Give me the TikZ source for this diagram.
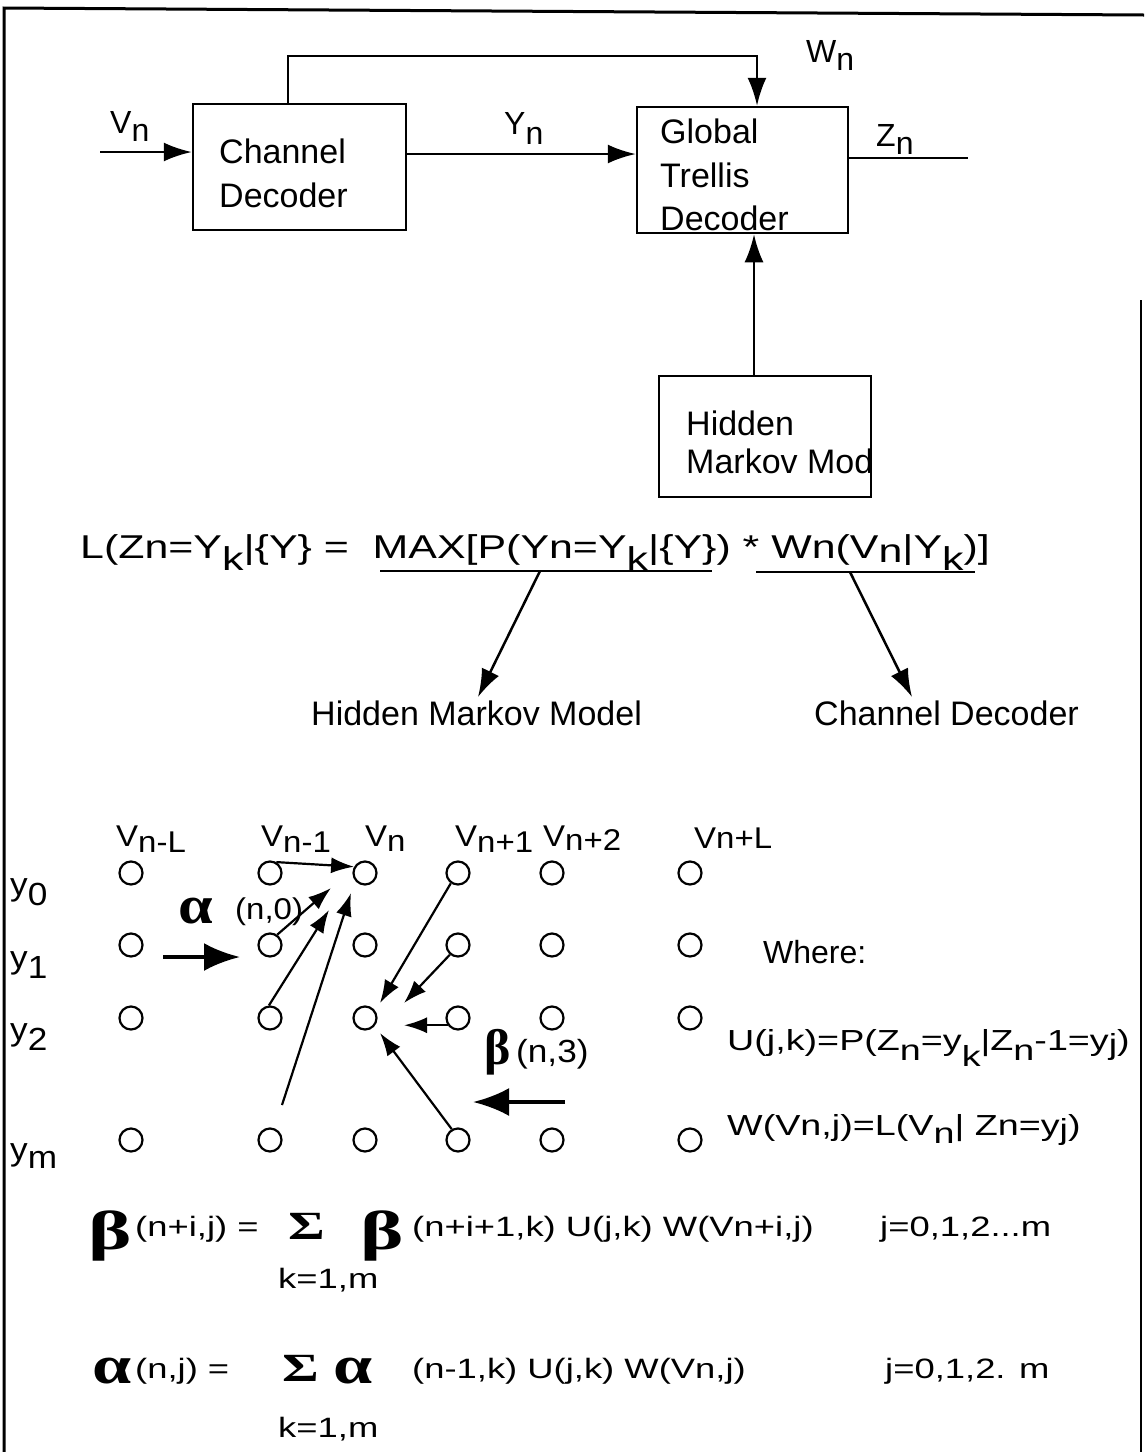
\documentclass[tikz,border=0pt]{standalone}
\usepackage{graphicx}
\usepackage{fontspec}
\setmainfont{Liberation Sans}
\newfontfamily\wf[FakeStretch=1.3]{Liberation Sans}
\newfontfamily\mf[FakeStretch=1.1]{Liberation Sans}
\newfontfamily\gf{Liberation Serif}
\usetikzlibrary{arrows.meta}
\newcommand\fz[1]{\fontsize{#1}{#1}\selectfont}
\newcommand\dn[2][8pt]{\raisebox{-#1}{#2}}
\begin{document}
\begin{tikzpicture}[x=1pt,y=-1pt,
  box/.style={draw, line width=2.5pt, inner sep=0pt},
  lbl/.style={inner sep=0pt, anchor=base west},
  con/.style={line width=2.5pt, -{Latex[length=28pt,width=19pt]}},
  plain/.style={line width=2.5pt},
  dot/.style={circle, draw, line width=2.2pt, minimum size=23pt, inner sep=0pt},
  tarr/.style={line width=2.2pt, -{Latex[length=23pt,width=16pt]}},
  big/.style={line width=4pt, -{Latex[length=36pt,width=28pt]}}]
\useasboundingbox (0,0) rectangle (1144,1452);
% frame
\coordinate (tl) at (4,8); \coordinate (tr) at (1144,15); \coordinate (bl) at (4,1452);
\coordinate (rt) at (1141,300); \coordinate (rb) at (1141,1452);
\draw[line width=3pt] (bl) -- (tl) -- (tr);
\draw[line width=2.5pt] (rt) -- (rb);
% blocks
\node[box, minimum width=213pt, minimum height=126pt] (cd) at (299.5,167) {};
\node[box, minimum width=211pt, minimum height=126pt] (gt) at (742.5,170) {};
\node[box, minimum width=212pt, minimum height=121pt] (hmm) at (765,436.5) {};
\node[lbl] (cd1) at (219,163) {\fz{34}Channel};
\node[lbl] (cd2) at (219,207) {\fz{34}Decoder};
\node[lbl] (gt1) at (660,143) {\fz{34}Global};
\node[lbl] (gt2) at (660,187) {\fz{34}Trellis};
\node[lbl] (gt3) at (660,230) {\fz{34}Decoder};
\node[lbl] (hm1) at (686,435) {\fz{34}Hidden};
\begin{scope}
\clip (hmm.north west) rectangle (hmm.south east);
\node[lbl] (hm2) at (686,473) {\fz{34}Markov Model};
\end{scope}
% connectors
\coordinate (vin) at (100,152);
\draw[con] (vin) -- (vin -| cd.west);
\coordinate (yl) at (406,154);
\draw[con] (yl) -- (yl -| gt.west);
\coordinate (zout) at (968,158);
\draw[plain] (zout -| gt.east) -- (zout);
\coordinate (fb1) at (288,56); \coordinate (fb2) at (757,56);
\draw[con] (cd.north -| fb1) -- (fb1) -- (fb2) -- (fb2 |- gt.north);
\coordinate (hx) at (754,300);
\draw[con] (hmm.north -| hx) -- (gt.south -| hx);
% labels
\node[lbl] (lw) at (806,62) {\fz{32}W\dn{n}};
\node[lbl] (lv) at (110,133) {\fz{32}V\dn{n}};
\node[lbl] (ly) at (504,134) {\fz{32}Y\dn[10pt]{n}};
\node[lbl] (lz) at (876,146) {\fz{32}Z\dn{n}};
% equation
\node[lbl] (eq) at (80,558) {\wf\fz{33}L(Zn=Y\dn[12pt]{k}|\{Y\} =\ \ MAX[P(Yn=Y\dn[12pt]{k}|\{Y\}) * Wn(V\dn[4pt]{n}|Y\dn[12pt]{k})]};
\coordinate (u1a) at (380,571); \coordinate (u1b) at (712,571);
\coordinate (u2a) at (756,572); \coordinate (u2b) at (975,572);
\draw[plain] (u1a) -- (u1b);
\draw[plain] (u2a) -- (u2b);
\node[lbl] (hmt) at (311,725) {\fz{34}Hidden Markov Model};
\node[lbl] (cdt) at (814,725) {\fz{34}Channel Decoder};
\coordinate (e1s) at (540,571); \coordinate (e1e) at (478,697);
\coordinate (e2s) at (850,572); \coordinate (e2e) at (912,697);
\draw[con] (e1s) -- (e1e);
\draw[con] (e2s) -- (e2e);
% trellis
\foreach \c/\x in {1/131,2/270,3/365,4/458,5/552,6/690}
  \foreach \r/\y in {0/873,1/945,2/1018,m/1140}
    \node[dot] (c\c-\r) at (\x,\y) {};
\node[lbl] (v1) at (116,846) {\mf\fz{30}V\dn[6pt]{n-L}};
\node[lbl] (v2) at (261,846) {\mf\fz{30}V\dn[6pt]{n-1}};
\node[lbl] (v3) at (365,846) {\mf\fz{30}V\dn[5pt]{n}};
\node[lbl] (v4) at (455,846) {\mf\fz{30}V\dn[6pt]{n+1}};
\node[lbl] (v5) at (543,846) {\mf\fz{30}V\dn[4pt]{n+2}};
\node[lbl] (v6) at (694,848) {\mf\fz{30}Vn+L};
\node[lbl] (r0) at (10,895) {\mf\fz{32}y\dn[10pt]{0}};
\node[lbl] (r1) at (10,968) {\mf\fz{32}y\dn[10pt]{1}};
\node[lbl] (r2) at (10,1040) {\mf\fz{32}y\dn[10pt]{2}};
\node[lbl] (rm) at (10,1160) {\mf\fz{32}y\dn[8pt]{m}};
\coordinate (t1) at (331,888); \coordinate (t2) at (329,910);
\coordinate (t3) at (351,893); \coordinate (s4) at (282,1105);
\draw[tarr] (c2-0.60) -- (c3-0.150);
\draw[tarr] (c2-1.55) -- (t1);
\draw[tarr] (c2-2.95) -- (t2);
\draw[tarr] (s4) -- (t3);
\coordinate (b1) at (380,1003); \coordinate (b2) at (404,1003);
\coordinate (b3) at (404,1025); \coordinate (b4) at (380,1033);
\draw[tarr] (c4-0.235) -- (b1);
\draw[tarr] (c4-1.230) -- (b2);
\draw[tarr] (c4-2.215) -- (c4-2.215 -| b3);
\draw[tarr] (c4-m.120) -- (b4);
\coordinate (ba1s) at (163,957); \coordinate (ba1e) at (240,957);
\coordinate (ba2s) at (565,1102); \coordinate (ba2e) at (473,1102);
\draw[big] (ba1s) -- (ba1e);
\draw[big] (ba2s) -- (ba2e);
\node[lbl] (al) at (178,923) {\scalebox{1.15}[1]{\gf\bfseries\fz{54}α}};
\node[lbl] (aln) at (235,919) {\mf\fz{30}(n,0)};
\node[lbl] (be) at (484,1064) {\gf\bfseries\fz{50}β};
\node[lbl] (ben) at (516,1062) {\mf\fz{32}(n,3)};
% where
\node[lbl] (wh) at (763,963) {\fz{32}Where:};
\node[lbl] (ud) at (727,1050) {\wf\fz{29}U(j,k)=P(Z\dn[10pt]{n}=y\dn[16pt]{k}|Z\dn[10pt]{n}-1=y\dn[4pt]{j})};
\node[lbl] (wd) at (727,1135) {\wf\fz{29}W(Vn,j)=L(V\dn[8pt]{n}| Zn=y\dn[4pt]{j})};
% formulas
\node[lbl] (fb1) at (88,1249) {\scalebox{1.5}[1]{\gf\bfseries\fz{55}β}};
\node[lbl] (fb2) at (135,1236) {\wf\fz{28}(n+i,j) =};
\node[lbl] (fb3) at (288,1239) {\scalebox{1.4}[1]{\gf\bfseries\fz{40}Σ}};
\node[lbl] (fb4) at (360,1249) {\scalebox{1.5}[1]{\gf\bfseries\fz{55}β}};
\node[lbl] (fb5) at (412,1236) {\wf\fz{28}(n+i+1,k) U(j,k) W(Vn+i,j)};
\node[lbl] (fb6) at (880,1236) {\wf\fz{28}j=0,1,2...m};
\node[lbl] (fb7) at (278,1288) {\wf\fz{28}k=1,m};
\node[lbl] (fa1) at (92,1383) {\scalebox{1.3}[1]{\gf\bfseries\fz{54}α}};
\node[lbl] (fa2) at (135,1378) {\wf\fz{28}(n,j) =};
\node[lbl] (fa3) at (282,1381) {\scalebox{1.4}[1]{\gf\bfseries\fz{40}Σ}};
\node[lbl] (fa4) at (333,1383) {\scalebox{1.3}[1]{\gf\bfseries\fz{54}α}};
\node[lbl] (fa5) at (412,1378) {\wf\fz{28}(n-1,k) U(j,k) W(Vn,j)};
\node[lbl] (fa6) at (885,1378) {\wf\fz{28}j=0,1,2. m};
\node[lbl] (fa7) at (278,1437) {\wf\fz{28}k=1,m};
\end{tikzpicture}
\end{document}
